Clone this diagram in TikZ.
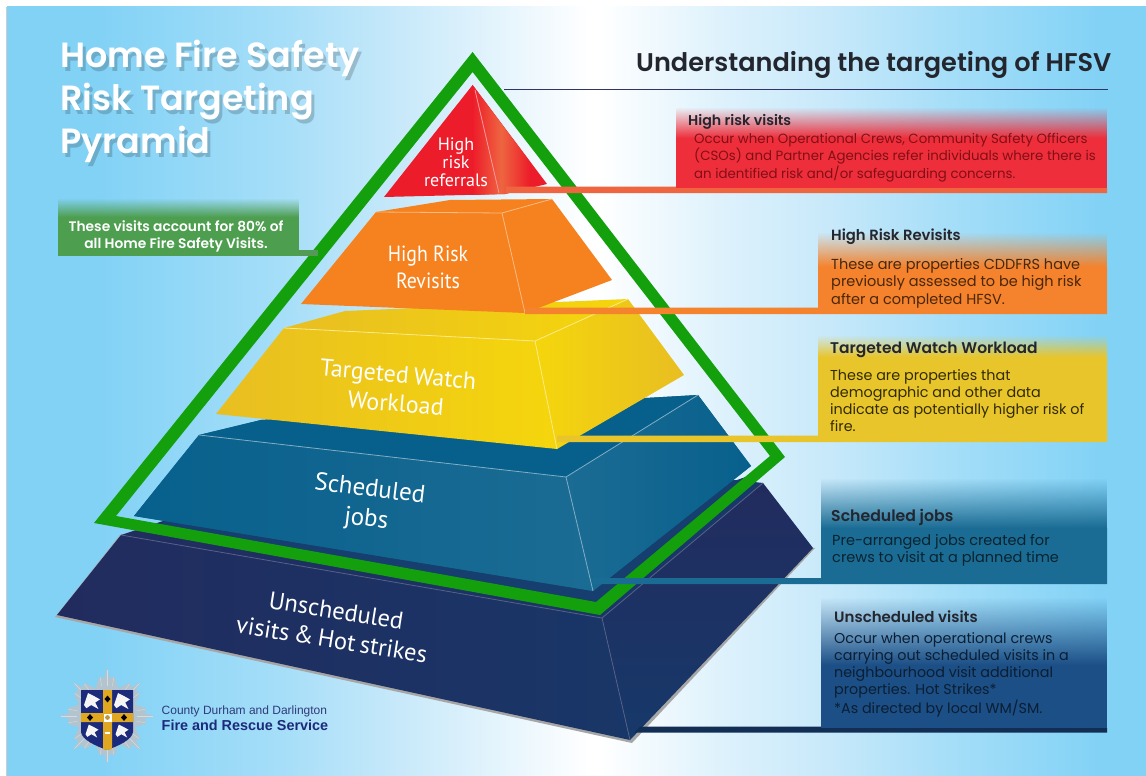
\documentclass[tikz,border=0pt]{standalone}
\usepackage{fontspec}
\setmainfont{Liberation Sans}
\newfontfamily\gothic{Poppins}
\newfontfamily\gothicsb{Poppins SemiBold}
\newfontfamily\pyrfont{PT Sans}
\usetikzlibrary{fadings,shadings}
\definecolor{bgA}{HTML}{82D2F6}
\definecolor{bgB}{HTML}{A5DEF8}
\definecolor{bgC}{HTML}{C8E9FA}
\definecolor{gLine}{HTML}{14A00C}
\definecolor{cRed}{HTML}{ED1C2A}
\definecolor{cRedBox}{HTML}{EE2E3A}
\definecolor{cRedStrip}{HTML}{EE6540}
\definecolor{cOr}{HTML}{F5821F}
\definecolor{cOrBox}{HTML}{F5822C}
\definecolor{cYe}{HTML}{F5D60C}
\definecolor{cYe2}{HTML}{E8BE22}
\definecolor{cYeBox}{HTML}{E9C52C}
\definecolor{cTe}{HTML}{1B6C94}
\definecolor{cTe2}{HTML}{07608C}
\definecolor{cNa}{HTML}{222B5E}
\definecolor{cNa2}{HTML}{16396A}
\definecolor{cNaBox}{HTML}{1C4F86}
\definecolor{cGrBox}{HTML}{4E9E50}
\definecolor{sGold}{HTML}{E0A820}
\definecolor{sNavy}{HTML}{1B2A7A}
\definecolor{sStar}{HTML}{B4C4CE}
\definecolor{headInk}{HTML}{23262E}
\pgfdeclarehorizontalshading{bgsh}{100bp}{
  color(0bp)=(bgA); color(25bp)=(bgA); color(29bp)=(bgA); color(37bp)=(bgB);
  color(42.3bp)=(bgC); color(50.6bp)=(white); color(51bp)=(white);
  color(56.3bp)=(bgC!60!white); color(61bp)=(bgC); color(66.4bp)=(bgB);
  color(73bp)=(bgA); color(100bp)=(bgA)}
\tikzfading[name=fadedown, top color=transparent!100, bottom color=transparent!0]
\tikzset{
  x=1pt, y=-1pt,
  crease/.style={line width=0.8pt},
  fadebox/.style={draw=none, path fading=fadedown},
  head/.style={inner sep=0pt, anchor=base west, text=headInk},
  body/.style={inner sep=0pt, anchor=base west, align=left},
  pyrlabel/.style={inner sep=0pt, align=center, text=white},
}
\newcommand{\gb}[2]{\gothicsb\fontsize{#1}{#2}\selectfont}
\newcommand{\gr}[2]{\gothic\fontsize{#1}{#2}\selectfont}
\begin{document}
\begin{tikzpicture}
\useasboundingbox (0,0) rectangle (1146,776);
\fill[white] (0,0) rectangle (1146,776);
\fill[gray!40] (5.5,7) rectangle (7,776);
\shade[shading=bgsh] (7,7) rectangle (1146,776);

% --- base slab
\fill[gray!70] (55,617) -- (120,535) -- (815,548) -- (632,743) -- cycle;
\shade[left color=cNa, right color=cNa2] (57,615) -- (121,535) -- (163,521) -- (737,480) -- (763,483) -- (602,618) -- (630,740) -- cycle;
\shade[top color=cNa, bottom color=cNa2, shading angle=0] (602,618) -- (763,483) -- (813,548) -- (630,740) -- cycle;
\fill[cNa2!90!cTe] (163,521) -- (737,480) -- (765,470) -- (596,610) -- (160,530) -- cycle;
\draw[crease, cNa!75!white] (121,535) -- (602,618) -- (763,483);
\draw[crease, cNa!75!white] (602,618) -- (630,740);

% --- scheduled slab
\fill[cTe2] (134,516) -- (199,435) -- (261,420) -- (698,395) -- (751,466) -- (593,591) -- cycle;
\shade[left color=cTe2, right color=cTe] (134,516) -- (199,435) -- (566,477) -- (593,591) -- cycle;
\shade[left color=cTe, right color=cTe2] (566,477) -- (698,395) -- (751,466) -- (593,591) -- cycle;
\fill[cTe2] (199,435) -- (261,420) -- (698,395) -- (566,477) -- cycle;
\draw[crease, cTe!55!white] (199,435) -- (566,477) -- (698,395);
\draw[crease, cTe!55!white] (566,477) -- (593,591);

% --- watch slab
\shade[left color=cYe2, right color=cYe] (216,414) -- (284,328) -- (535,341) -- (557,449) -- cycle;
\shade[left color=cYe, right color=cYe2] (535,341) -- (628,299) -- (684,375) -- (557,449) -- cycle;
\shade[left color=cYe2, right color=cYe] (284,328) -- (345,311) -- (628,299) -- (535,341) -- cycle;
\draw[crease, cYe!50!white] (284,328) -- (535,341) -- (628,299);
\draw[crease, cYe!50!white] (535,341) -- (557,449);

% --- revisit slab
\fill[cOr] (301,304) -- (376,212) -- (450,200) -- (552,199) -- (612,280) -- (525,313) -- cycle;
\draw[crease, cOr!55!white] (376,212) -- (502,213) -- (552,199);
\draw[crease, cOr!55!white] (502,213) -- (525,313);

% --- apex
\fill[cRed] (472.6,85) -- (384,197) -- (505,194) -- (547,184) -- cycle;
\shade[left color=cRed, right color=cRed, middle color=cRedStrip] (472.6,85) -- (530,162) -- (530,188) -- (505,194) -- (472.6,195) -- cycle;
\draw[crease, cRed!45!white] (475,90) -- (499,193);

% --- green outline
\fill[gLine, even odd rule] (472.6,52) -- (785,457) -- (600,615) -- (94,523) -- cycle
  (472.6,72) -- (116,516) -- (596,602) -- (770,456) -- cycle;

% --- rule under heading
\draw[line width=1.2pt, black!65!blue!60!gray] (504,89.5) -- (1108,89.5);

% --- strips and boxes
\fill[cRedStrip] (506,186.5) -- (676,186.5) -- (676,188) -- (1107,188) -- (1107,193) -- (506,193) -- cycle;
\fill[cRedBox] (676,138) rectangle (1107,188);
\fill[cRedBox, fadebox] (676,107) rectangle (1107,138);

\fill[cOrBox] (525,307.5) -- (818,307.5) -- (818,267) -- (1107,267) -- (1107,314) -- (525,314) -- cycle;
\fill[cOrBox, fadebox] (818,232) rectangle (1107,267);

\fill[cYeBox] (557,435.5) -- (818,435.5) -- (818,357) -- (1107,357) -- (1107,442) -- (557,442) -- cycle;
\fill[cYeBox, fadebox] (818,335) rectangle (1107,357);

\fill[cTe] (593,578) -- (821,578) -- (821,528) -- (1107,528) -- (1107,584) -- (593,584) -- cycle;
\fill[cTe, fadebox] (821,478) rectangle (1107,528);

\fill[cNaBox] (821,665) rectangle (1107,728);
\fill[cNaBox, fadebox] (821,597) rectangle (1107,665);
\fill[cNa2!80!black] (640,726.5) -- (821,726.5) -- (821,728) -- (1107,728) -- (1107,732.5) -- (634,732.5) -- cycle;

\fill[cGrBox] (58,217) rectangle (299,256);
\fill[cGrBox, fadebox] (58,198) rectangle (299,217);
\fill[cGrBox!90!gray] (299,250) rectangle (318,256);

% --- titles
\node[inner sep=0pt, anchor=base west, align=left, text=black, opacity=0.18, font=\gb{35}{43}] (titleshadow) at (63,157) {Home Fire Safety\\Risk Targeting\\Pyramid};
\node[inner sep=0pt, anchor=base west, align=left, text=white, font=\gb{35}{43}] (title) at (60,153) {Home Fire Safety\\Risk Targeting\\Pyramid};
\node[inner sep=0pt, anchor=base west, text=headInk, font=\gb{25.6}{28}] (heading) at (636,72) {Understanding the targeting of HFSV};
\node[inner sep=0pt, align=center, text=white, anchor=base, font=\gb{13.8}{17}] (eighty) at (176,248) {These visits account for 80\% of\\all Home Fire Safety Visits.};

% --- box texts
\node[head, font=\gb{14.2}{16}] (h1) at (688,125) {High risk visits};
\node[body, text=cRed!55!black, font=\gr{13.35}{15.6}] (b1) at (694,178) {Occur when Operational Crews, Community Safety Officers\\(CSOs) and Partner Agencies refer individuals where there is\\an identified risk and/or safeguarding concerns.};
\node[head, font=\gb{14.8}{16}] (h2) at (831,240) {High Risk Revisits};
\node[body, text=black!70!cOr, font=\gr{14.5}{17.5}] (b2) at (831,304) {These are properties CDDFRS have\\previously assessed to be high risk\\after a completed HFSV.};
\node[head, font=\gb{15.5}{16}] (h3) at (830,353) {Targeted Watch Workload};
\node[body, text=black!80!cYe, font=\gr{14.35}{17}] (b3) at (830,431) {These are properties that\\demographic and other data\\indicate as potentially higher risk of\\fire.};
\node[head, font=\gb{15.7}{16}] (h4) at (831,521) {Scheduled jobs};
\node[body, text=black!68!cTe, font=\gr{14.5}{17}] (b4) at (832,562) {Pre-arranged jobs created for\\crews to visit at a planned time};
\node[head, font=\gb{15}{16}] (h5) at (834,622) {Unscheduled visits};
\node[body, text=black!62!cNaBox, font=\gr{14.3}{17}] (b5) at (834,713) {Occur when operational crews\\carrying out scheduled visits in a\\neighbourhood visit additional\\properties. Hot Strikes*\\*As directed by local WM/SM.};

% --- pyramid labels
\node[pyrlabel, font=\pyrfont\fontsize{18}{18}\selectfont] (l1) at (456,162) {High\\risk\\referrals};
\node[pyrlabel, transform shape, xscale=0.9, font=\pyrfont\fontsize{22}{27}\selectfont] (l2) at (428,267) {High Risk\\Revisits};
\node[pyrlabel, rotate=-5, font=\pyrfont\fontsize{24}{29}\selectfont] (l3) at (397,389) {Targeted\hspace{5pt}Watch\\Workload};
\node[pyrlabel, rotate=-7, font=\pyrfont\fontsize{25}{30}\selectfont] (l4) at (368,505) {Scheduled\\jobs};
\node[pyrlabel, rotate=-9, font=\pyrfont\fontsize{24.5}{29}\selectfont] (l5) at (334,625) {Unscheduled\\visits\hspace{4.5pt}\&\hspace{4.5pt}Hot\hspace{4.5pt}strikes};

% --- crest
\begin{scope}[shift={(107,716)}]
\fill[sStar] (0,0) circle (30);
\foreach \a in {0,45,...,315}{
  \fill[sStar] (\a-22.5:30) -- (\a-11:40) -- (\a-4:38) -- (\a:48) -- (\a+4:38) -- (\a+11:40) -- (\a+22.5:30) -- (0,0) -- cycle;
  \draw[white!40!sStar, line width=0.5pt] (\a:30) -- (\a:46);
  \draw[white!40!sStar, line width=0.4pt] (\a-10:30) -- (\a-10:39);
  \draw[white!40!sStar, line width=0.4pt] (\a+10:30) -- (\a+10:39);
}
\end{scope}
\fill[sNavy] (81,690) -- (133,690) -- (133,732) .. controls (132,740) and (118,746) .. (107,750) .. controls (96,746) and (82,740) .. (81,732) -- cycle;
\fill[sGold] (103,690) -- (112,690) -- (112,713) -- (133,713) -- (133,722) -- (112,722) -- (112,749) -- (107,750) -- (103,749) -- (103,722) -- (81,722) -- (81,713) -- (103,713) -- cycle;
\fill[white] (103.5,713.5) rectangle (111.5,721.5);
\fill[sGold!60!gray] (107.5,717.5) circle (2.4);
\foreach \dx/\dy in {107.5/699,90/717.5,124/717.5}{
  \fill[black] (\dx-3,\dy) -- (\dx,\dy-3.4) -- (\dx+3,\dy) -- (\dx,\dy+3.4) -- cycle;
}
\foreach \cx/\cy/\r in {92/701/8,122/701/8,92/731/6.5,122/731/6.5}{
  \fill[white!92!gray] (\cx-\r,\cy+\r*0.5) -- (\cx-\r*0.5,\cy-\r) -- (\cx+\r*0.1,\cy-\r*0.7) -- (\cx+\r,\cy-\r*0.2) -- (\cx+\r*0.4,\cy+\r*0.2) -- (\cx+\r*0.8,\cy+\r) -- (\cx-\r*0.1,\cy+\r*0.5) -- (\cx-\r*0.7,\cy+\r*0.9) -- cycle;
}
\fill[white] (105,732) rectangle (110,734);
\node[inner sep=0pt, anchor=base west, text=sNavy!80!gray, font=\fontsize{12}{13}\selectfont] (lg1) at (161.5,714) {County Durham and Darlington};
\node[inner sep=0pt, anchor=base west, text=sNavy, font=\bfseries\fontsize{14.4}{15}\selectfont] (lg2) at (161.5,730) {Fire and Rescue Service};
\end{tikzpicture}
\end{document}
